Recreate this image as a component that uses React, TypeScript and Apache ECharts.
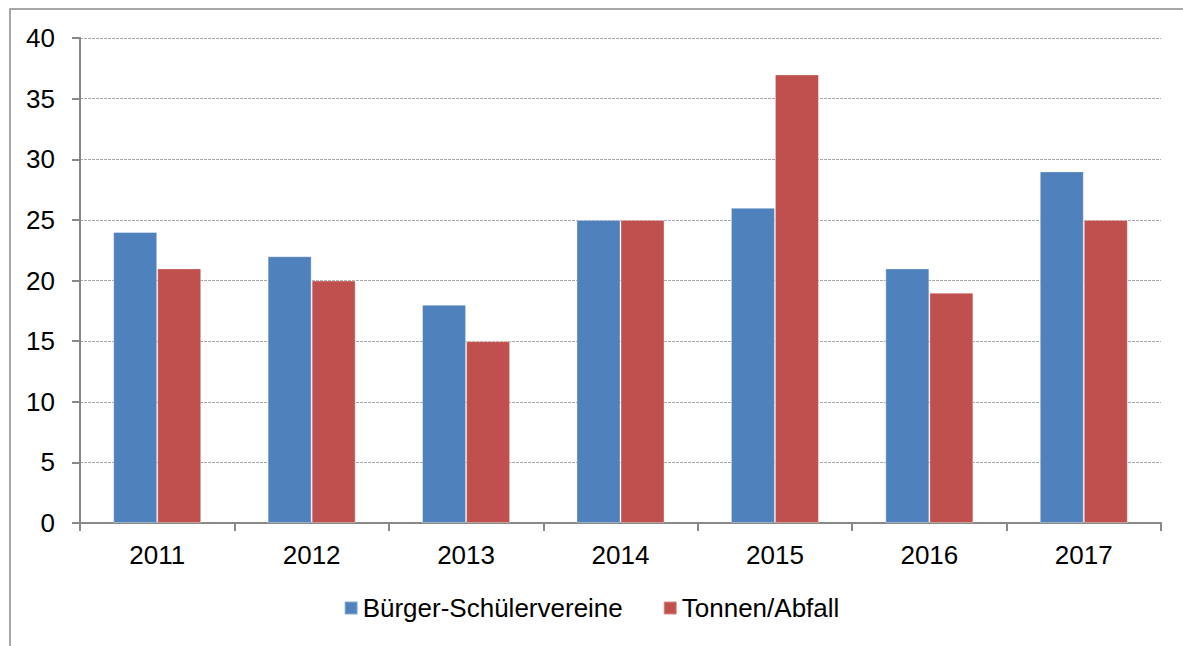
import React, { useEffect, useRef } from "react";
import * as echarts from "echarts";

const years = ["2011", "2012", "2013", "2014", "2015", "2016", "2017"];
const buergerSchueler = [24, 22, 18, 25, 26, 21, 29];
const tonnenAbfall = [21, 20, 15, 25, 37, 19, 25];
const seriesNames = ["Bürger-Schülervereine", "Tonnen/Abfall"];

export default function App() {
  const ref = useRef<HTMLDivElement>(null);
  useEffect(() => {
    if (!ref.current) return;
    const chart = echarts.init(ref.current, null, { renderer: "svg" });
    const font = "'Liberation Sans', Arial, sans-serif";
    chart.setOption({
      animation: false,
      backgroundColor: "#ffffff",
      textStyle: { fontFamily: font },
      graphic: [
        {
          type: "rect",
          shape: { x: 10, y: 9, width: 1250, height: 700 },
          style: { fill: "none", stroke: "#8a8a8a", lineWidth: 1.5 },
          silent: true,
        },
      ],
      grid: { left: 80, right: 22, top: 38, bottom: 123 },
      legend: {
        data: seriesNames,
        top: 590,
        left: "center",
        itemWidth: 13,
        itemHeight: 13,
        itemGap: 40,
        icon: "rect",
        textStyle: { fontSize: 26, color: "#000", fontFamily: font },
      },
      xAxis: {
        type: "category",
        data: years,
        axisLine: { lineStyle: { color: "#888", width: 2 } },
        axisTick: { show: true, length: 8, alignWithLabel: false, lineStyle: { color: "#888", width: 2 } },
        axisLabel: { fontSize: 26, color: "#000", margin: 19, fontFamily: font },
      },
      yAxis: {
        type: "value",
        min: 0,
        max: 40,
        interval: 5,
        axisLine: { show: true, lineStyle: { color: "#888", width: 2 } },
        axisTick: { show: true, length: 8, lineStyle: { color: "#888", width: 2 } },
        axisLabel: { fontSize: 26, color: "#000", margin: 25, fontFamily: font },
        splitLine: { show: true, lineStyle: { color: "#a8a8a8", width: 1, type: [3, 1] } },
      },
      series: [
        {
          name: seriesNames[0],
          type: "bar",
          data: buergerSchueler,
          barGap: "0%",
          barCategoryGap: "43%",
          itemStyle: { color: "#4F81BD", borderColor: "rgba(255,255,255,0.35)", borderWidth: 1 },
        },
        {
          name: seriesNames[1],
          type: "bar",
          data: tonnenAbfall,
          barGap: "0%",
          barCategoryGap: "43%",
          itemStyle: { color: "#C0504D", borderColor: "rgba(255,255,255,0.35)", borderWidth: 1 },
        },
      ],
    });
    return () => chart.dispose();
  }, []);
  return (
    <div
      ref={ref}
      style={{ position: "fixed", left: 0, top: 0, width: 1183, height: 646 }}
    />
  );
}
